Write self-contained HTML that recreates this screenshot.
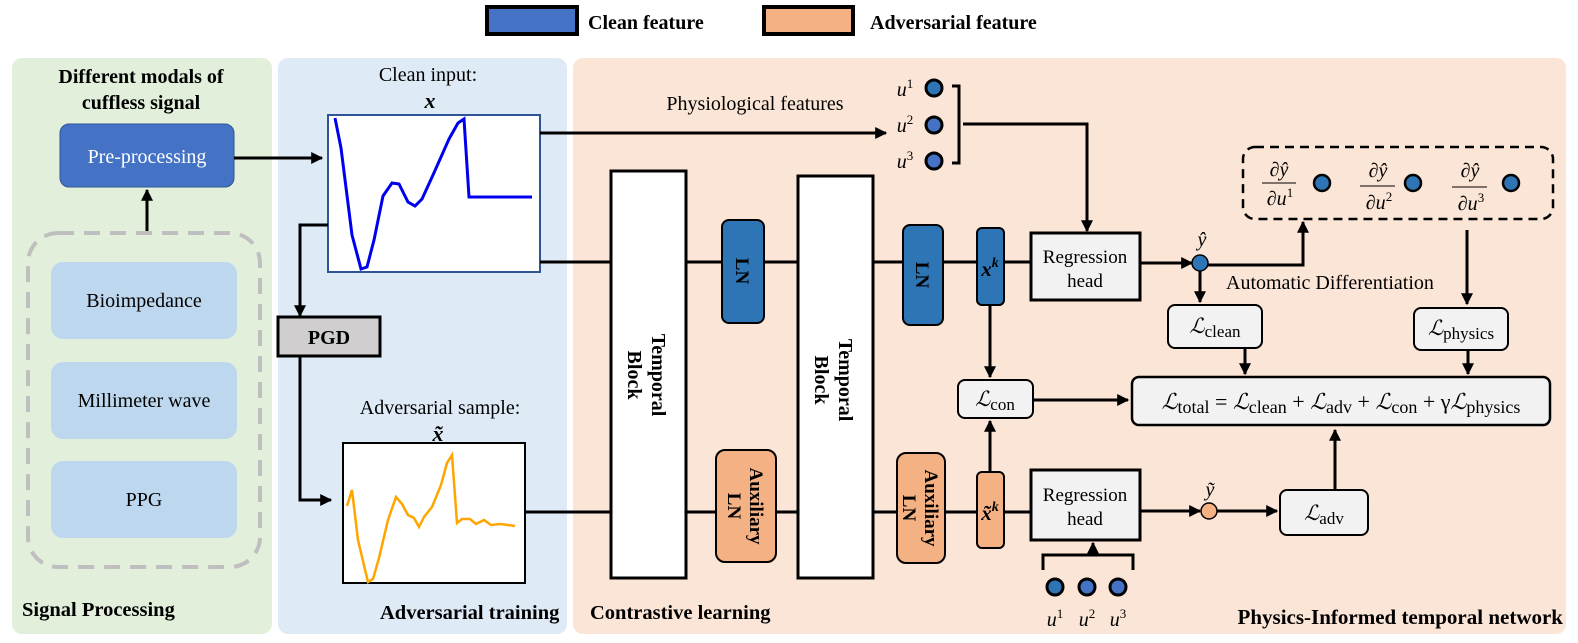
<!DOCTYPE html>
<html><head><meta charset="utf-8"><style>
html,body{margin:0;padding:0;background:#fff;}
svg{display:block;}
text{font-family:"Liberation Serif",serif;}
.b{font-weight:bold;}
</style></head><body>
<svg width="1578" height="643" viewBox="0 0 1578 643" xmlns="http://www.w3.org/2000/svg">
<defs>
<marker id="ar" viewBox="0 0 10 10" refX="9" refY="5" markerWidth="4" markerHeight="4" orient="auto"><path d="M0,0 L10,5 L0,10 z" fill="#000"/></marker>
</defs>
<!-- legend -->
<rect x="487" y="7" width="90" height="27" fill="#4472c4" stroke="#000" stroke-width="4"/>
<text x="588" y="29" font-size="20" class="b">Clean feature</text>
<rect x="764" y="7" width="89" height="27" fill="#f4b183" stroke="#000" stroke-width="4"/>
<text x="870" y="29" font-size="20" class="b">Adversarial feature</text>

<!-- panels -->
<rect x="12" y="58" width="260" height="576" rx="10" fill="#e2efda"/>
<rect x="278" y="58" width="289" height="576" rx="10" fill="#deebf7"/>
<rect x="573" y="58" width="993" height="576" rx="10" fill="#fbe5d6"/>

<!-- signal processing -->
<text x="141" y="83" font-size="20" class="b" text-anchor="middle">Different modals of</text>
<text x="141" y="109" font-size="20" class="b" text-anchor="middle">cuffless signal</text>
<rect x="60" y="124" width="174" height="63" rx="9" fill="#4472c4" stroke="#2f5597" stroke-width="1"/>
<text x="147" y="163" font-size="20" fill="#fff" text-anchor="middle">Pre-processing</text>
<line x1="147" y1="232" x2="147" y2="190" stroke="#000" stroke-width="3" marker-end="url(#ar)"/>
<rect x="28" y="233" width="232" height="334" rx="30" fill="none" stroke="#bfbfbf" stroke-width="4" stroke-dasharray="16,10"/>
<rect x="51" y="262" width="186" height="77" rx="12" fill="#bdd7ee"/>
<text x="144" y="307" font-size="20" text-anchor="middle">Bioimpedance</text>
<rect x="51" y="362" width="186" height="77" rx="12" fill="#bdd7ee"/>
<text x="144" y="407" font-size="20" text-anchor="middle">Millimeter wave</text>
<rect x="51" y="461" width="186" height="77" rx="12" fill="#bdd7ee"/>
<text x="144" y="506" font-size="20" text-anchor="middle">PPG</text>
<text x="22" y="616" font-size="20.5" class="b">Signal Processing</text>
<line x1="234" y1="158" x2="322" y2="158" stroke="#000" stroke-width="3" marker-end="url(#ar)"/>

<!-- adversarial training -->
<text x="428" y="81" font-size="20" text-anchor="middle">Clean input:</text>
<text x="430" y="108" font-size="22" class="b" font-style="italic" text-anchor="middle">x</text>
<rect x="328" y="115" width="212" height="157" fill="#fff" stroke="#2f5597" stroke-width="2"/>
<polyline points="335,118 341,148 352,235 361,269 367,267 374,240 383,196 392,183 399,184 408,202 415,206 422,199 433,175 449,139 458,123 464,119 469,197 532,197" fill="none" stroke="#0000ee" stroke-width="3"/>
<polyline points="328,225 300,225 300,316" fill="none" stroke="#000" stroke-width="3" marker-end="url(#ar)"/>
<rect x="278" y="317" width="102" height="39" fill="#d0cece" stroke="#000" stroke-width="3"/>
<text x="329" y="344" font-size="20" class="b" text-anchor="middle">PGD</text>
<polyline points="300,357 300,500 331,500" fill="none" stroke="#000" stroke-width="3" marker-end="url(#ar)"/>
<text x="440" y="414" font-size="20" text-anchor="middle">Adversarial sample:</text>
<text x="438" y="441" font-size="22" class="b" font-style="italic" text-anchor="middle">x̃</text>
<rect x="343" y="443" width="182" height="140" fill="#fff" stroke="#000" stroke-width="2"/>
<polyline points="347,506 352,490 358,540 368,582 373,579 379,558 388,520 396,497 402,504 408,515 414,518 419,527 424,517 432,507 441,485 447,463 452,455 457,523 462,519 470,519 476,524 484,520 491,525 500,524 508,525 515,526" fill="none" stroke="#ffa500" stroke-width="2.5"/>
<text x="380" y="619" font-size="20.5" class="b">Adversarial training</text>

<!-- main lines -->
<line x1="540" y1="133" x2="886" y2="133" stroke="#000" stroke-width="3" marker-end="url(#ar)"/>
<text x="755" y="110" font-size="20" text-anchor="middle">Physiological features</text>
<line x1="540" y1="262" x2="611" y2="262" stroke="#000" stroke-width="3"/>
<line x1="686" y1="262" x2="798" y2="262" stroke="#000" stroke-width="3"/>
<line x1="873" y1="262" x2="1030" y2="262" stroke="#000" stroke-width="3"/>
<line x1="526" y1="512" x2="611" y2="512" stroke="#000" stroke-width="3"/>
<line x1="686" y1="512" x2="798" y2="512" stroke="#000" stroke-width="3"/>
<line x1="873" y1="512" x2="1030" y2="512" stroke="#000" stroke-width="3"/>

<!-- temporal blocks -->
<rect x="611" y="171" width="75" height="407" fill="#fff" stroke="#000" stroke-width="3"/>
<text transform="translate(648,375) rotate(90)" font-size="20" class="b" text-anchor="middle"><tspan x="0" dy="-4">Temporal</tspan><tspan x="0" dy="24">Block</tspan></text>
<rect x="798" y="176" width="75" height="402" fill="#fff" stroke="#000" stroke-width="3"/>
<text transform="translate(835,380) rotate(90)" font-size="20" class="b" text-anchor="middle"><tspan x="0" dy="-4">Temporal</tspan><tspan x="0" dy="24">Block</tspan></text>

<rect x="722" y="220" width="42" height="103" rx="7" fill="#2e75b6" stroke="#000" stroke-width="2"/>
<text transform="translate(743,271) rotate(90)" font-size="19" class="b" text-anchor="middle" dy="7">LN</text>
<rect x="716" y="450" width="60" height="112" rx="9" fill="#f4b183" stroke="#000" stroke-width="2"/>
<text transform="translate(746,506) rotate(90)" font-size="19" class="b" text-anchor="middle"><tspan x="0" dy="-4">Auxiliary</tspan><tspan x="0" dy="22">LN</tspan></text>
<rect x="903" y="225" width="40" height="100" rx="7" fill="#2e75b6" stroke="#000" stroke-width="2"/>
<text transform="translate(923,275) rotate(90)" font-size="19" class="b" text-anchor="middle" dy="7">LN</text>
<rect x="897" y="453" width="48" height="110" rx="9" fill="#f4b183" stroke="#000" stroke-width="2"/>
<text transform="translate(921,508) rotate(90)" font-size="19" class="b" text-anchor="middle"><tspan x="0" dy="-4">Auxiliary</tspan><tspan x="0" dy="22">LN</tspan></text>

<rect x="977" y="228" width="27" height="77" rx="5" fill="#2e75b6" stroke="#000" stroke-width="2"/>
<text x="990" y="276" font-size="21" class="b" font-style="italic" text-anchor="middle">x<tspan font-size="14" dy="-9">k</tspan></text>
<rect x="977" y="472" width="27" height="76" rx="5" fill="#f4b183" stroke="#000" stroke-width="2"/>
<text x="990" y="520" font-size="21" class="b" font-style="italic" text-anchor="middle">x̃<tspan font-size="14" dy="-9">k</tspan></text>

<rect x="1031" y="233" width="109" height="67" fill="#f2f2f2" stroke="#000" stroke-width="3"/>
<text x="1085" y="263" font-size="19" text-anchor="middle">Regression</text>
<text x="1085" y="287" font-size="19" text-anchor="middle">head</text>
<rect x="1031" y="470" width="109" height="70" fill="#f2f2f2" stroke="#000" stroke-width="3"/>
<text x="1085" y="501" font-size="19" text-anchor="middle">Regression</text>
<text x="1085" y="525" font-size="19" text-anchor="middle">head</text>

<!-- u top -->
<g font-size="20" font-style="italic" text-anchor="middle">
<text x="905" y="96">u<tspan font-size="13" font-style="normal" dy="-8">1</tspan></text>
<text x="905" y="132">u<tspan font-size="13" font-style="normal" dy="-8">2</tspan></text>
<text x="905" y="168">u<tspan font-size="13" font-style="normal" dy="-8">3</tspan></text>
</g>
<circle cx="934" cy="88" r="8" fill="#2e75b6" stroke="#000" stroke-width="3"/>
<circle cx="934" cy="125" r="8" fill="#4472c4" stroke="#000" stroke-width="3"/>
<circle cx="934" cy="161" r="8" fill="#4472c4" stroke="#000" stroke-width="3"/>
<polyline points="952,86 959,86 959,163 952,163" fill="none" stroke="#000" stroke-width="3"/>
<polyline points="963,124 1087,124 1087,231" fill="none" stroke="#000" stroke-width="3" marker-end="url(#ar)"/>

<!-- y hat -->
<line x1="1140" y1="263" x2="1192" y2="263" stroke="#000" stroke-width="3" marker-end="url(#ar)"/>
<circle cx="1200" cy="263" r="8" fill="#2e75b6" stroke="#000" stroke-width="1.5"/>
<text x="1202" y="246" font-size="20" font-style="italic" text-anchor="middle">ŷ</text>
<polyline points="1208,265 1303,265 1303,222" fill="none" stroke="#000" stroke-width="3" marker-end="url(#ar)"/>
<text x="1226" y="289" font-size="20">Automatic Differentiation</text>
<line x1="1200" y1="271" x2="1200" y2="302" stroke="#000" stroke-width="3" marker-end="url(#ar)"/>
<rect x="1243" y="147" width="310" height="72" rx="12" fill="none" stroke="#000" stroke-width="2.5" stroke-dasharray="9,6"/>
<g font-size="20" font-style="italic" text-anchor="middle">
<text x="1279" y="176">∂ŷ</text><line x1="1262" y1="183" x2="1296" y2="183" stroke="#000" stroke-width="1"/><text x="1280" y="205">∂u<tspan font-size="13" font-style="normal" dy="-8">1</tspan></text>
<text x="1378" y="177">∂ŷ</text><line x1="1360" y1="186" x2="1395" y2="186" stroke="#000" stroke-width="1"/><text x="1379" y="209">∂u<tspan font-size="13" font-style="normal" dy="-8">2</tspan></text>
<text x="1470" y="177">∂ŷ</text><line x1="1452" y1="187" x2="1487" y2="187" stroke="#000" stroke-width="1"/><text x="1471" y="210">∂u<tspan font-size="13" font-style="normal" dy="-8">3</tspan></text>
</g>
<circle cx="1322" cy="183" r="8" fill="#2e75b6" stroke="#000" stroke-width="2.5"/>
<circle cx="1413" cy="183" r="8" fill="#2e75b6" stroke="#000" stroke-width="2.5"/>
<circle cx="1511" cy="183" r="8" fill="#2e75b6" stroke="#000" stroke-width="2.5"/>
<line x1="1467" y1="230" x2="1467" y2="304" stroke="#000" stroke-width="3" marker-end="url(#ar)"/>

<!-- losses -->
<rect x="1168" y="305" width="94" height="43" rx="7" fill="#f2f2f2" stroke="#000" stroke-width="2"/>
<text x="1215" y="333" font-size="21" text-anchor="middle" font-style="italic">ℒ<tspan font-style="normal" font-size="17" dy="4">clean</tspan></text>
<rect x="1414" y="308" width="94" height="42" rx="7" fill="#f2f2f2" stroke="#000" stroke-width="2"/>
<text x="1461" y="335" font-size="21" text-anchor="middle" font-style="italic">ℒ<tspan font-style="normal" font-size="17" dy="4">physics</tspan></text>
<line x1="1245" y1="348" x2="1245" y2="374" stroke="#000" stroke-width="3" marker-end="url(#ar)"/>
<line x1="1468" y1="350" x2="1468" y2="374" stroke="#000" stroke-width="3" marker-end="url(#ar)"/>
<rect x="1132" y="377" width="418" height="48" rx="7" fill="#f2f2f2" stroke="#000" stroke-width="2.5"/>
<text x="1341" y="409" font-size="22" text-anchor="middle" font-style="italic">ℒ<tspan font-style="normal" font-size="18" dy="4">total</tspan><tspan font-style="normal" dy="-4"> = </tspan>ℒ<tspan font-style="normal" font-size="18" dy="4">clean</tspan><tspan font-style="normal" dy="-4"> + </tspan>ℒ<tspan font-style="normal" font-size="18" dy="4">adv</tspan><tspan font-style="normal" dy="-4"> + </tspan>ℒ<tspan font-style="normal" font-size="18" dy="4">con</tspan><tspan font-style="normal" dy="-4"> + γ</tspan>ℒ<tspan font-style="normal" font-size="18" dy="4">physics</tspan></text>
<rect x="958" y="380" width="75" height="38" rx="7" fill="#f2f2f2" stroke="#000" stroke-width="2"/>
<text x="995" y="406" font-size="21" text-anchor="middle" font-style="italic">ℒ<tspan font-style="normal" font-size="17" dy="4">con</tspan></text>
<line x1="1033" y1="400" x2="1128" y2="400" stroke="#000" stroke-width="3" marker-end="url(#ar)"/>
<line x1="990" y1="305" x2="990" y2="377" stroke="#000" stroke-width="3" marker-end="url(#ar)"/>
<line x1="990" y1="472" x2="990" y2="421" stroke="#000" stroke-width="3" marker-end="url(#ar)"/>

<!-- y tilde -->
<line x1="1140" y1="511" x2="1200" y2="511" stroke="#000" stroke-width="3" marker-end="url(#ar)"/>
<circle cx="1209" cy="511" r="8" fill="#f4b183" stroke="#000" stroke-width="1.5"/>
<text x="1210" y="496" font-size="20" font-style="italic" text-anchor="middle">ỹ</text>
<line x1="1217" y1="511" x2="1277" y2="511" stroke="#000" stroke-width="3" marker-end="url(#ar)"/>
<rect x="1280" y="490" width="88" height="45" rx="7" fill="#f2f2f2" stroke="#000" stroke-width="2"/>
<text x="1324" y="520" font-size="21" text-anchor="middle" font-style="italic">ℒ<tspan font-style="normal" font-size="17" dy="4">adv</tspan></text>
<line x1="1335" y1="490" x2="1335" y2="430" stroke="#000" stroke-width="3" marker-end="url(#ar)"/>

<!-- bottom u -->
<polyline points="1043,570 1043,555 1133,555 1133,570" fill="none" stroke="#000" stroke-width="3"/>
<line x1="1093" y1="555" x2="1093" y2="543" stroke="#000" stroke-width="3" marker-end="url(#ar)"/>
<circle cx="1055" cy="587" r="8" fill="#2e75b6" stroke="#000" stroke-width="3"/>
<circle cx="1087" cy="587" r="8" fill="#4472c4" stroke="#000" stroke-width="3"/>
<circle cx="1118" cy="587" r="8" fill="#4472c4" stroke="#000" stroke-width="3"/>
<g font-size="20" font-style="italic" text-anchor="middle">
<text x="1055" y="626">u<tspan font-size="13" font-style="normal" dy="-8">1</tspan></text>
<text x="1087" y="626">u<tspan font-size="13" font-style="normal" dy="-8">2</tspan></text>
<text x="1118" y="626">u<tspan font-size="13" font-style="normal" dy="-8">3</tspan></text>
</g>
<text x="590" y="619" font-size="20.5" class="b">Contrastive learning</text>
<text x="1563" y="624" font-size="21" class="b" text-anchor="end">Physics-Informed temporal network</text>
</svg>
</body></html>
